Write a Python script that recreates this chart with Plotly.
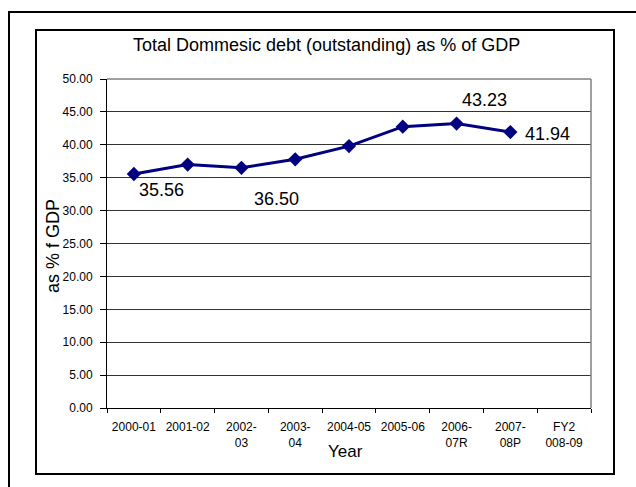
import plotly.graph_objects as go

categories = ["2000-01", "2001-02", "2002-03", "2003-04", "2004-05",
              "2005-06", "2006-07R", "2007-08P", "FY2008-09"]
tick_labels = ["2000-01", "2001-02", "2002-<br>03", "2003-<br>04", "2004-05",
               "2005-06", "2006-<br>07R", "2007-<br>08P", "FY2<br>008-09"]
debt_pct_gdp = [35.56, 37.0, 36.50, 37.8, 39.8, 42.75, 43.23, 41.94, None]
y_ticks = [0, 5, 10, 15, 20, 25, 30, 35, 40, 45, 50]

# labelled points: (index, x shift px, y shift px)
label_points = [(0, 28, -16), (2, 35, -31), (6, 28, 24), (7, 37, -2)]

FONT = "Liberation Sans, Arial, sans-serif"
NAVY = "#000080"

fig = go.Figure()
fig.add_trace(go.Scatter(
    x=categories, y=debt_pct_gdp, mode="lines+markers",
    line=dict(color=NAVY, width=3),
    marker=dict(symbol="diamond", size=11, color=NAVY),
    showlegend=False, hoverinfo="x+y",
))

annotations = []
for i, dx, dy in label_points:
    annotations.append(dict(
        x=categories[i], y=debt_pct_gdp[i], xref="x", yref="y",
        text=f"{debt_pct_gdp[i]:.2f}", showarrow=False,
        xanchor="center", yanchor="middle",
        xshift=dx, yshift=dy, font=dict(family=FONT, size=18, color="#000"),
    ))

def px_x(p):
    return (p - 107) / 484

def px_y(p):
    return (408 - p) / 329

# title, axis titles
annotations += [
    dict(x=px_x(326), y=px_y(45), xref="paper", yref="paper",
         xanchor="center", yanchor="middle",
         text="Total Dommesic debt (outstanding) as % of GDP", showarrow=False,
         font=dict(family=FONT, size=18, color="#000")),
    dict(x=px_x(345), y=px_y(451), xref="paper", yref="paper",
         xanchor="center", yanchor="middle",
         text="Year", showarrow=False, font=dict(family=FONT, size=17, color="#000")),
    dict(x=px_x(53), y=px_y(246), xref="paper", yref="paper",
         xanchor="center", yanchor="middle",
         text="as % f GDP", textangle=-90, showarrow=False,
         font=dict(family=FONT, size=18, color="#000")),
]

shapes = [
    # outer frame (extends past right/bottom of page)
    dict(type="rect", xref="paper", yref="paper",
         x0=px_x(9), x1=px_x(660), y0=px_y(510), y1=px_y(12),
         line=dict(color="#000", width=2), layer="below"),
    # inner frame
    dict(type="rect", xref="paper", yref="paper",
         x0=px_x(36), x1=px_x(614), y0=px_y(474), y1=px_y(30),
         line=dict(color="#000", width=2), layer="below"),
    # plot area top and right border (gray)
    dict(type="line", xref="paper", yref="paper", x0=0, x1=1, y0=1, y1=1,
         line=dict(color="#808080", width=1.5), layer="above"),
    dict(type="line", xref="paper", yref="paper", x0=1, x1=1, y0=0, y1=1,
         line=dict(color="#808080", width=1.5), layer="above"),
]

fig.update_layout(
    width=636, height=487,
    margin=dict(l=107, r=45, t=79, b=79),
    paper_bgcolor="white", plot_bgcolor="white",
    font=dict(family=FONT, color="#000"),
    annotations=annotations, shapes=shapes,
    xaxis=dict(
        type="category", categoryorder="array", categoryarray=categories,
        tickvals=categories, ticktext=tick_labels,
        range=[-0.5, len(categories) - 0.5],
        tickson="boundaries", ticks="outside", ticklen=4, tickcolor="#000",
        ticklabelstandoff=8,
        showgrid=False, showline=True, linecolor="#000", linewidth=1,
        tickfont=dict(family=FONT, size=12, color="#000"),
        fixedrange=True,
    ),
    yaxis=dict(
        range=[0, 50], tickvals=y_ticks, tickformat=".2f",
        ticks="outside", ticklen=6, tickcolor="#000",
        ticklabelstandoff=5,
        showgrid=True, gridcolor="#333", gridwidth=1,
        zeroline=False, showline=True, linecolor="#000", linewidth=1,
        tickfont=dict(family=FONT, size=12, color="#000"),
        fixedrange=True,
    ),
)

fig.write_html("out.html")
